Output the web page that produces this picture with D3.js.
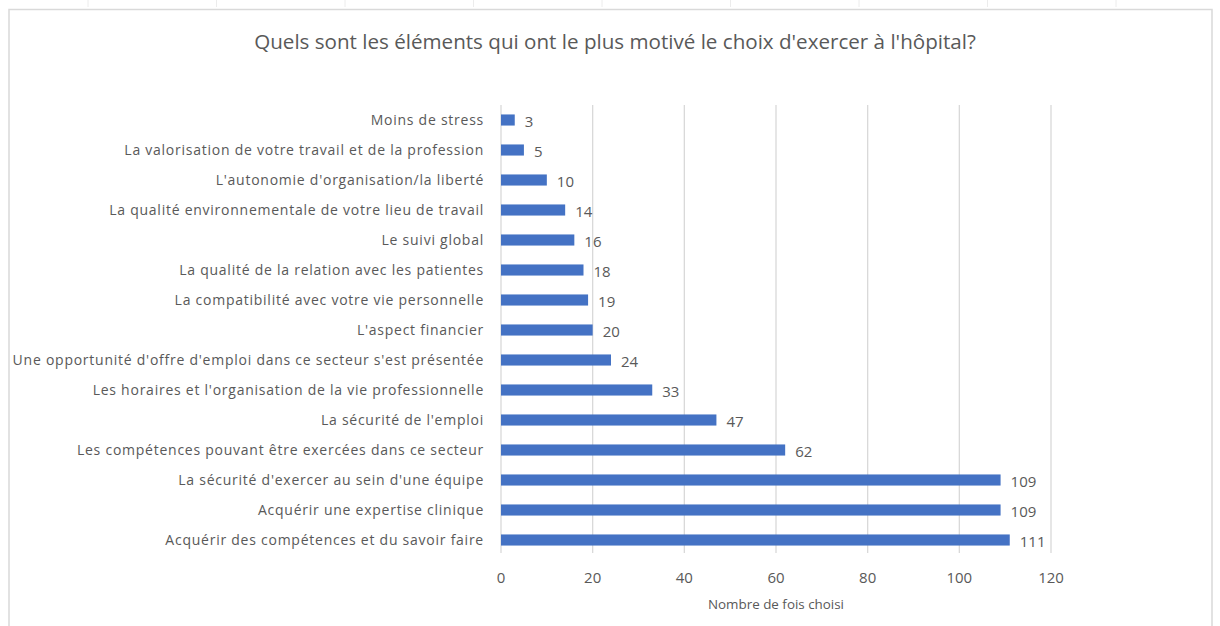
<!DOCTYPE html>
<html>
<head>
<meta charset="utf-8">
<script src="https://cdn.jsdelivr.net/npm/d3@7"></script>
<style>
  body{margin:0;background:#fff;font-family:"Open Sans",Lato,sans-serif;}
  svg text{fill:#595959;}
</style>
</head>
<body>
<div id="chart"></div>
<script>
(function(){
  const categories=[
    "Moins de stress",
    "La valorisation de votre travail et de la profession",
    "L'autonomie d'organisation/la liberté",
    "La qualité environnementale de votre lieu de travail",
    "Le suivi global",
    "La qualité de la relation avec les patientes",
    "La compatibilité avec votre vie personnelle",
    "L'aspect financier",
    "Une opportunité d'offre d'emploi dans ce secteur s'est présentée",
    "Les horaires et l'organisation de la vie professionnelle",
    "La sécurité de l'emploi",
    "Les compétences pouvant être exercées dans ce secteur",
    "La sécurité d'exercer au sein d'une équipe",
    "Acquérir une expertise clinique",
    "Acquérir des compétences et du savoir faire"
  ];
  const values=[3,5,10,14,16,18,19,20,24,33,47,62,109,109,111];
  const xTicks=[0,20,40,60,80,100,120];

  const W=1220,H=626;
  const svg=d3.select("#chart").append("svg").attr("width",W).attr("height",H);

  // faint sheet cell marks above the frame
  svg.selectAll(".cell").data(d3.range(9)).join("line")
    .attr("x1",i=>88+i*128.5).attr("x2",i=>88+i*128.5).attr("y1",0).attr("y2",7)
    .attr("stroke","#ececec");
  svg.append("rect").attr("x",9).attr("y",9.5).attr("width",1203).attr("height",640)
    .attr("fill","#fff").attr("stroke","#d9d9d9").attr("stroke-width",1.5);

  svg.append("text").attr("x",615).attr("y",49).attr("text-anchor","middle")
    .attr("font-size",20.6).text("Quels sont les éléments qui ont le plus motivé le choix d'exercer à l'hôpital?");

  const m={left:501,right:1051,top:105,bottom:555};
  const x=d3.scaleLinear().domain([0,120]).range([m.left,m.right]);
  const y=d3.scaleBand().domain(categories).range([m.top,m.bottom]).paddingInner(0.63).paddingOuter(0.315);

  const g=svg.append("g");
  g.selectAll(".grid").data(xTicks).join("line")
    .attr("x1",d=>x(d)).attr("x2",d=>x(d)).attr("y1",m.top).attr("y2",m.bottom-2)
    .attr("stroke","#d9d9d9").attr("stroke-width",1.3);

  g.selectAll(".bar").data(values).join("rect")
    .attr("x",x(0)).attr("y",(d,i)=>y(categories[i]))
    .attr("width",d=>x(d)-x(0)).attr("height",y.bandwidth())
    .attr("fill","#4472c4");

  g.selectAll(".val").data(values).join("text")
    .attr("x",d=>x(d)+10).attr("y",(d,i)=>y(categories[i])+y.bandwidth()/2+6.5)
    .attr("font-size",15).attr("fill","#404040").text(d=>d);

  g.selectAll(".cat").data(categories).join("text")
    .attr("x",484).attr("y",d=>y(d)+y.bandwidth()/2+5)
    .attr("text-anchor","end").attr("font-size",14).attr("letter-spacing",0.75).text(d=>d);

  g.selectAll(".tick").data(xTicks).join("text")
    .attr("x",d=>x(d)).attr("y",583).attr("text-anchor","middle")
    .attr("font-size",15).text(d=>d);

  svg.append("text").attr("x",776).attr("y",609).attr("text-anchor","middle")
    .attr("font-size",13.4).text("Nombre de fois choisi");
})();
</script>
</body>
</html>
